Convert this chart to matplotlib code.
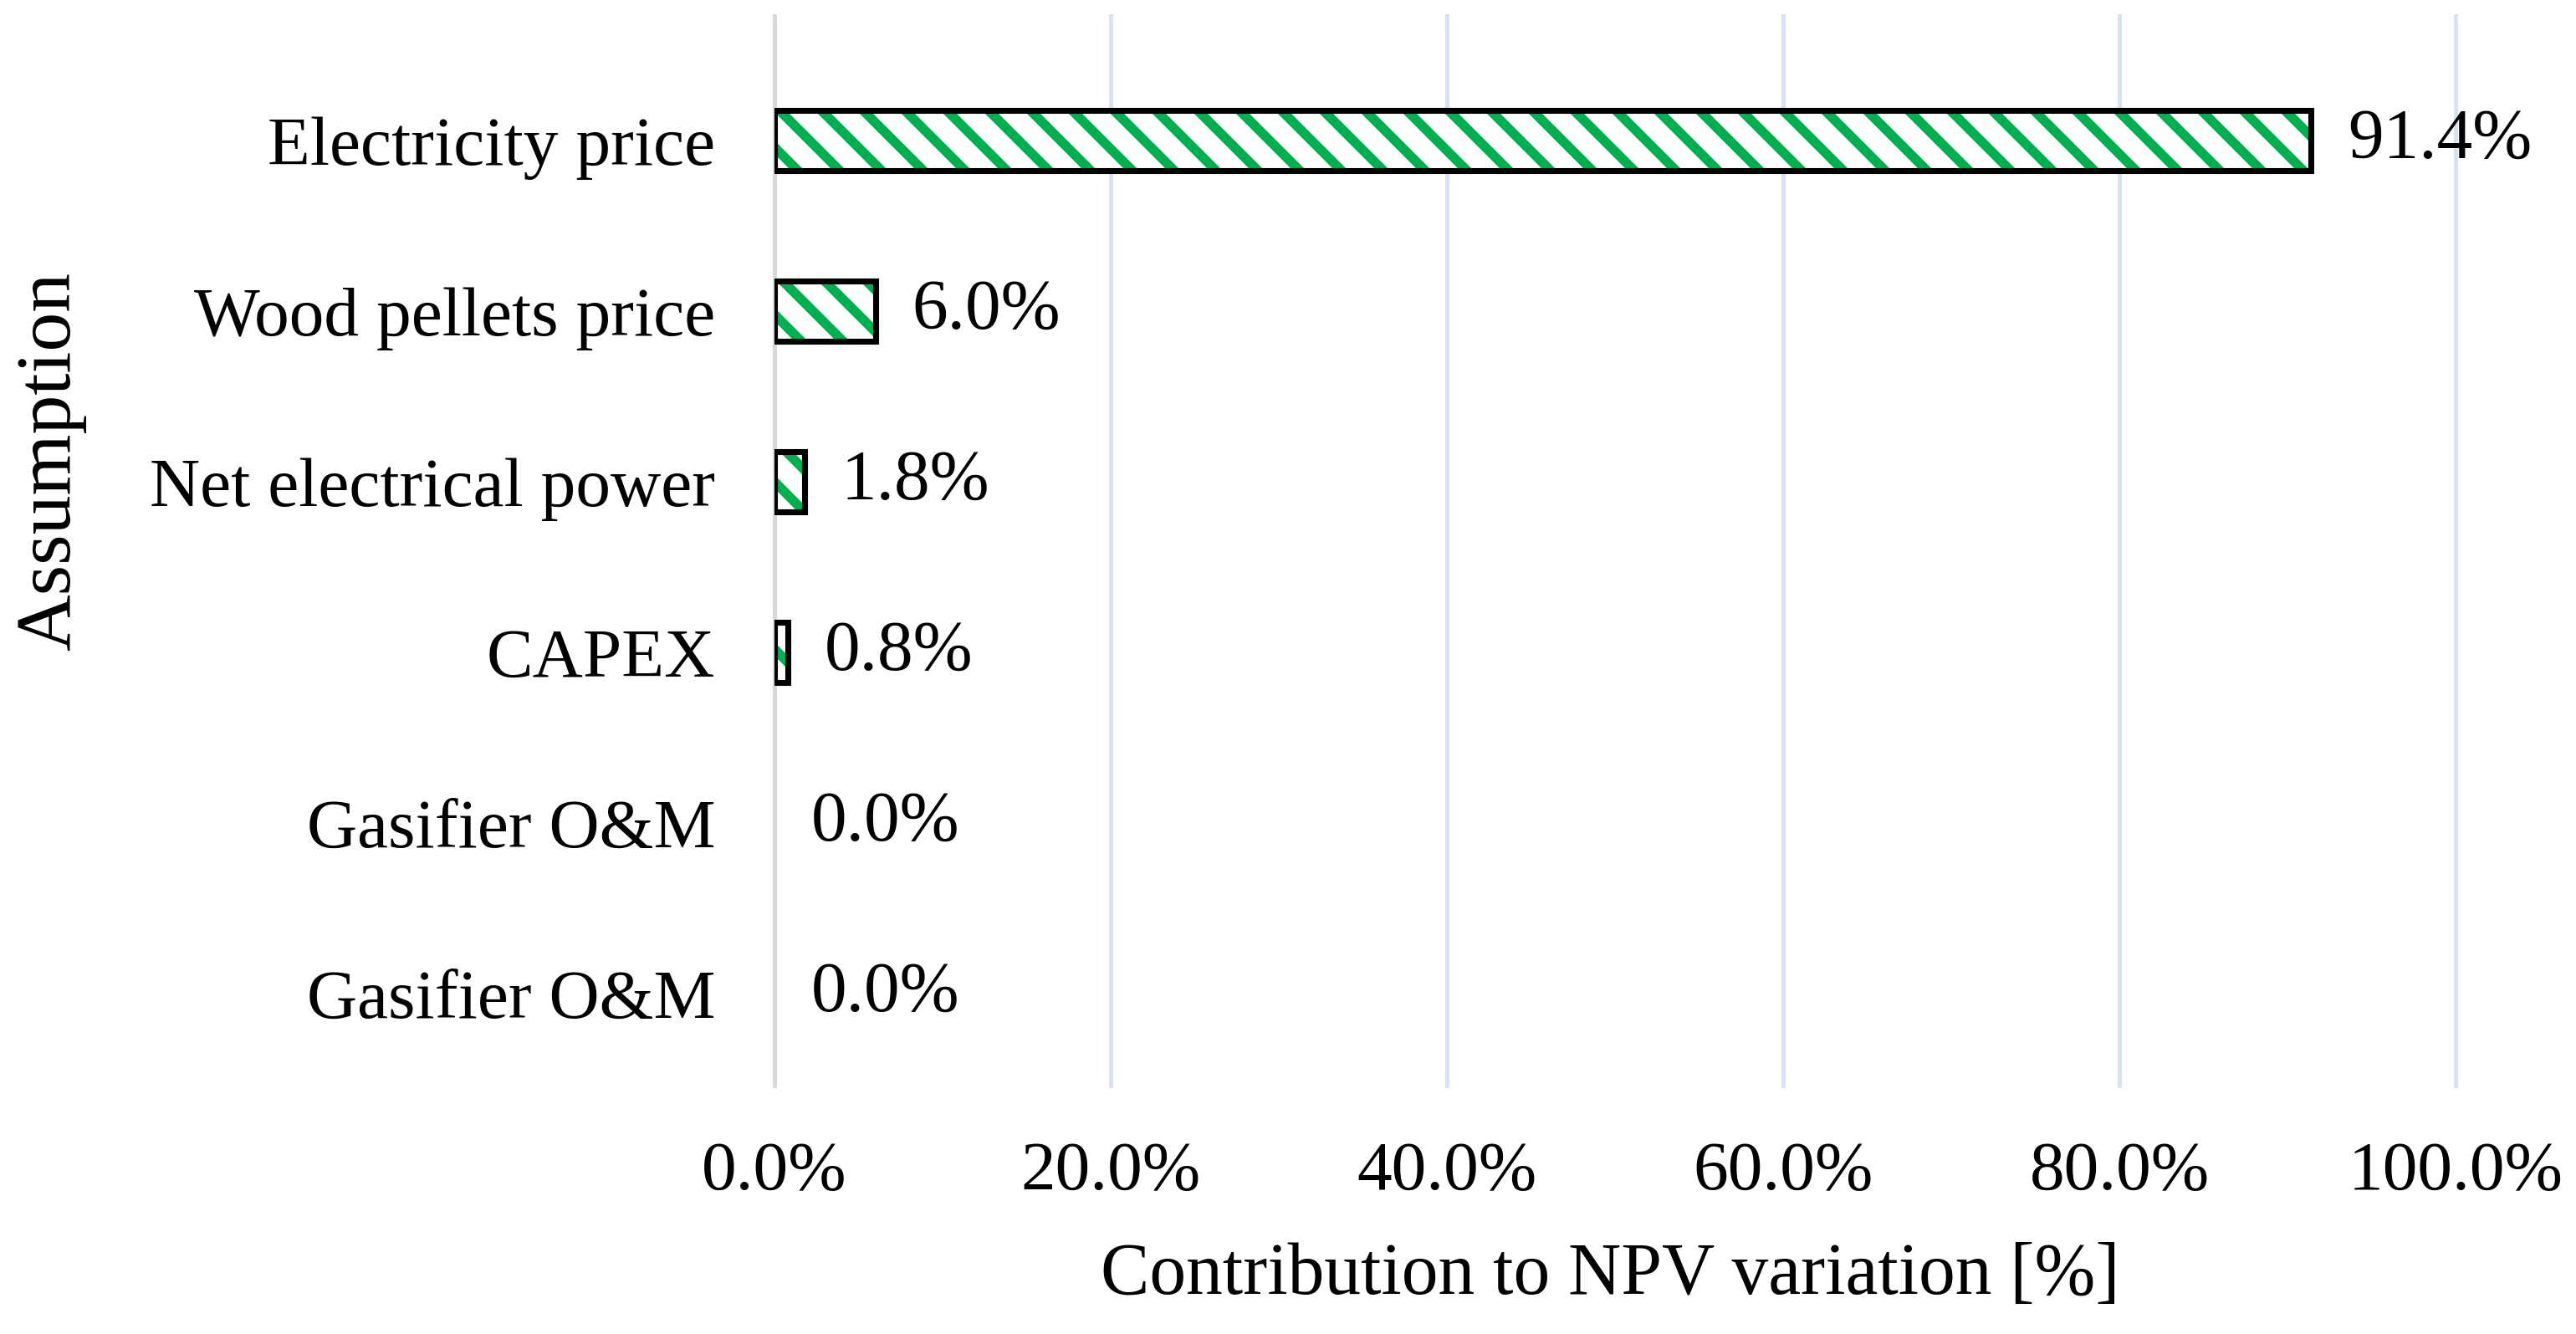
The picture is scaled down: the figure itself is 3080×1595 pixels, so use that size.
import matplotlib
matplotlib.use("Agg")
import matplotlib.pyplot as plt

categories = ["Electricity price", "Wood pellets price", "Net electrical power",
              "CAPEX", "Gasifier O&M", "Gasifier O&M"]
values = [91.4, 6.0, 1.8, 0.8, 0.0, 0.0]
xticks = [0, 20, 40, 60, 80, 100]
xtick_labels = ["0.0%", "20.0%", "40.0%", "60.0%", "80.0%", "100.0%"]

plt.rcParams["font.family"] = ["Liberation Serif", "DejaVu Serif"]
plt.rcParams["hatch.linewidth"] = 5.5

DPI = 150
fig = plt.figure(figsize=(3080 / DPI, 1595 / DPI), dpi=DPI)
ax = fig.add_axes([926 / 3080, 1 - 1298 / 1595, (2936 - 926) / 3080, (1298 - 19) / 1595])

pos = list(range(len(categories)))
green = "#00B050"
# hatched fill layer
ax.barh(pos, values, height=0.355, color="white", edgecolor=green,
        hatch="\\", linewidth=0, zorder=2)
# black outline layer
lws = [3.4 if v > 0 else 0 for v in values]
ax.barh(pos, values, height=0.355, fill=False, edgecolor="black",
        linewidth=lws, zorder=3)

for p, v in zip(pos, values):
    ax.annotate(f"{v:.1f}%", xy=(v, p), xytext=(21, 0), textcoords="offset points",
                ha="left", va="center", fontsize=41, color="black")

ax.set_xlim(0, 100)
ax.set_ylim(5.539, -0.730)
ax.set_yticks(pos)
ax.set_yticklabels(categories, fontsize=40)
ax.set_xticks(xticks)
ax.set_xticklabels(xtick_labels, fontsize=40)
ax.tick_params(axis="y", length=0, pad=34)
ax.tick_params(axis="x", length=0, pad=32)

ax.set_axisbelow(True)
ax.grid(axis="x", color="#D9E1F2", linewidth=2.4)
ax.grid(axis="y", visible=False)
for line in ax.get_xgridlines():
    line.set_clip_on(False)

for s in ["top", "right", "bottom"]:
    ax.spines[s].set_visible(False)
ax.spines["left"].set_color("#D9D9D9")
ax.spines["left"].set_linewidth(2.4)
ax.spines["left"].set_zorder(1.5)

fig.text(1925 / 3080, 1 - 1547 / 1595, "Contribution to NPV variation [%]",
         ha="center", va="baseline", fontsize=42)
fig.text(61 / 3080, 1 - 552 / 1595, "Assumption", rotation=90,
         ha="center", va="center", fontsize=45)

fig.savefig("out.png", dpi=DPI, facecolor="white")
